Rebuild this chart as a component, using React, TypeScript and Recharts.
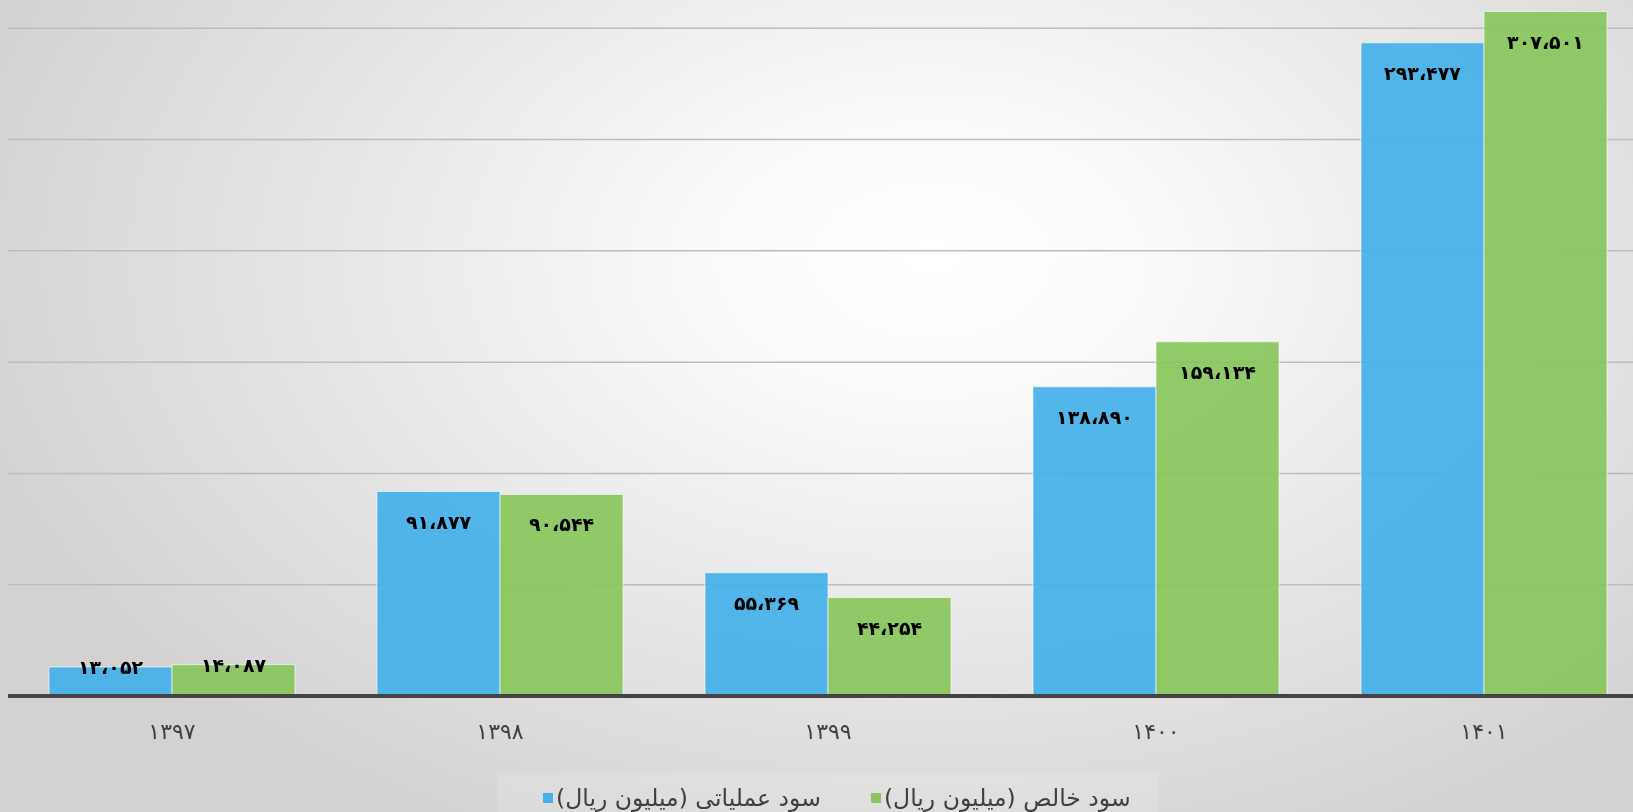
import React from 'react';
import { BarChart, Bar, XAxis, YAxis, CartesianGrid, Legend, LabelList } from 'recharts';

// years (Persian digits) and values in million rials
const years = ['۱۳۹۷', '۱۳۹۸', '۱۳۹۹', '۱۴۰۰', '۱۴۰۱'];
const operatingProfit = [13052, 91877, 55369, 138890, 293477];
const netProfit = [14087, 90544, 44254, 159134, 307501];
const gridTicks = [0, 50000, 100000, 150000, 200000, 250000, 300000, 350000];

const operatingName = 'سود عملیاتی (میلیون ریال)';
const netName = 'سود خالص (میلیون ریال)';

const data = years.map((year, i) => ({
  year,
  operating: operatingProfit[i],
  net: netProfit[i],
}));

const BLUE = '#45B0EA';
const GREEN = '#8AC55E';
const FONT = '"DejaVu Sans", sans-serif';

const faDigits = '۰۱۲۳۴۵۶۷۸۹';
const toPersian = (v: number) =>
  v
    .toLocaleString('en-US')
    .replace(/\d/g, (d) => faDigits[Number(d)])
    .replace(/,/g, '،');

const BarLabel = (props: any) => {
  const { x, y, width, height, value } = props;
  const cy = height < 50 ? y : y + 30;
  return (
    <text
      x={x + width / 2}
      y={cy}
      textAnchor="middle"
      dominantBaseline="central"
      fontFamily={FONT}
      fontWeight="bold"
      fontSize={19}
      fill="#000"
    >
      {toPersian(value)}
    </text>
  );
};

const LegendContent = () => (
  <div
    style={{
      display: 'flex',
      alignItems: 'center',
      height: '100%',
      fontFamily: FONT,
      fontSize: 23.5,
      color: '#404040',
      background: 'rgba(255,255,255,0.15)',
    }}
  >
    <span style={{ width: 10, height: 10, background: BLUE, marginLeft: 46, marginRight: 3 }} />
    <span>{operatingName}</span>
    <span style={{ width: 10, height: 10, background: GREEN, marginLeft: 50, marginRight: 3 }} />
    <span>{netName}</span>
  </div>
);

const App = () => {
  return (
    <div
      style={{
        position: 'fixed',
        left: 0,
        top: 0,
        width: 1633,
        height: 812,
        overflow: 'hidden',
        background:
          'radial-gradient(ellipse 62% 80% at 57% 32%, #ffffff 0%, #fafafa 22%, #e6e6e6 60%, #d2d2d2 100%)',
      }}
    >
      <div style={{ position: 'absolute', left: 0, top: -83 }}>
        <BarChart
          width={1660}
          height={944}
          data={data}
          margin={{ top: 0, right: 12, left: 8, bottom: 55 }}
          barCategoryGap="12.5%"
          barGap={0}
        >
          <CartesianGrid vertical={false} stroke="#bcbcbc" strokeWidth={1.5} />
          <YAxis hide domain={[0, 350000]} ticks={gridTicks} allowDataOverflow />
          <XAxis
            dataKey="year"
            height={60}
            axisLine={{ stroke: '#444', strokeWidth: 4 }}
            tickLine={false}
            tickSize={0}
            tickMargin={27}
            tick={{ fill: '#404040', fontSize: 22, fontFamily: FONT }}
          />
          <Legend
            content={<LegendContent />}
            wrapperStyle={{ left: 497, top: 856, width: 661, height: 50 }}
          />
          <Bar
            dataKey="operating"
            name={operatingName}
            fill={BLUE}
            fillOpacity={0.93}
            stroke="rgba(255,255,255,0.6)"
            strokeWidth={1}
            isAnimationActive={false}
          >
            <LabelList dataKey="operating" content={<BarLabel />} />
          </Bar>
          <Bar
            dataKey="net"
            name={netName}
            fill={GREEN}
            fillOpacity={0.93}
            stroke="rgba(255,255,255,0.6)"
            strokeWidth={1}
            isAnimationActive={false}
          >
            <LabelList dataKey="net" content={<BarLabel />} />
          </Bar>
        </BarChart>
      </div>
    </div>
  );
};

export default App;
